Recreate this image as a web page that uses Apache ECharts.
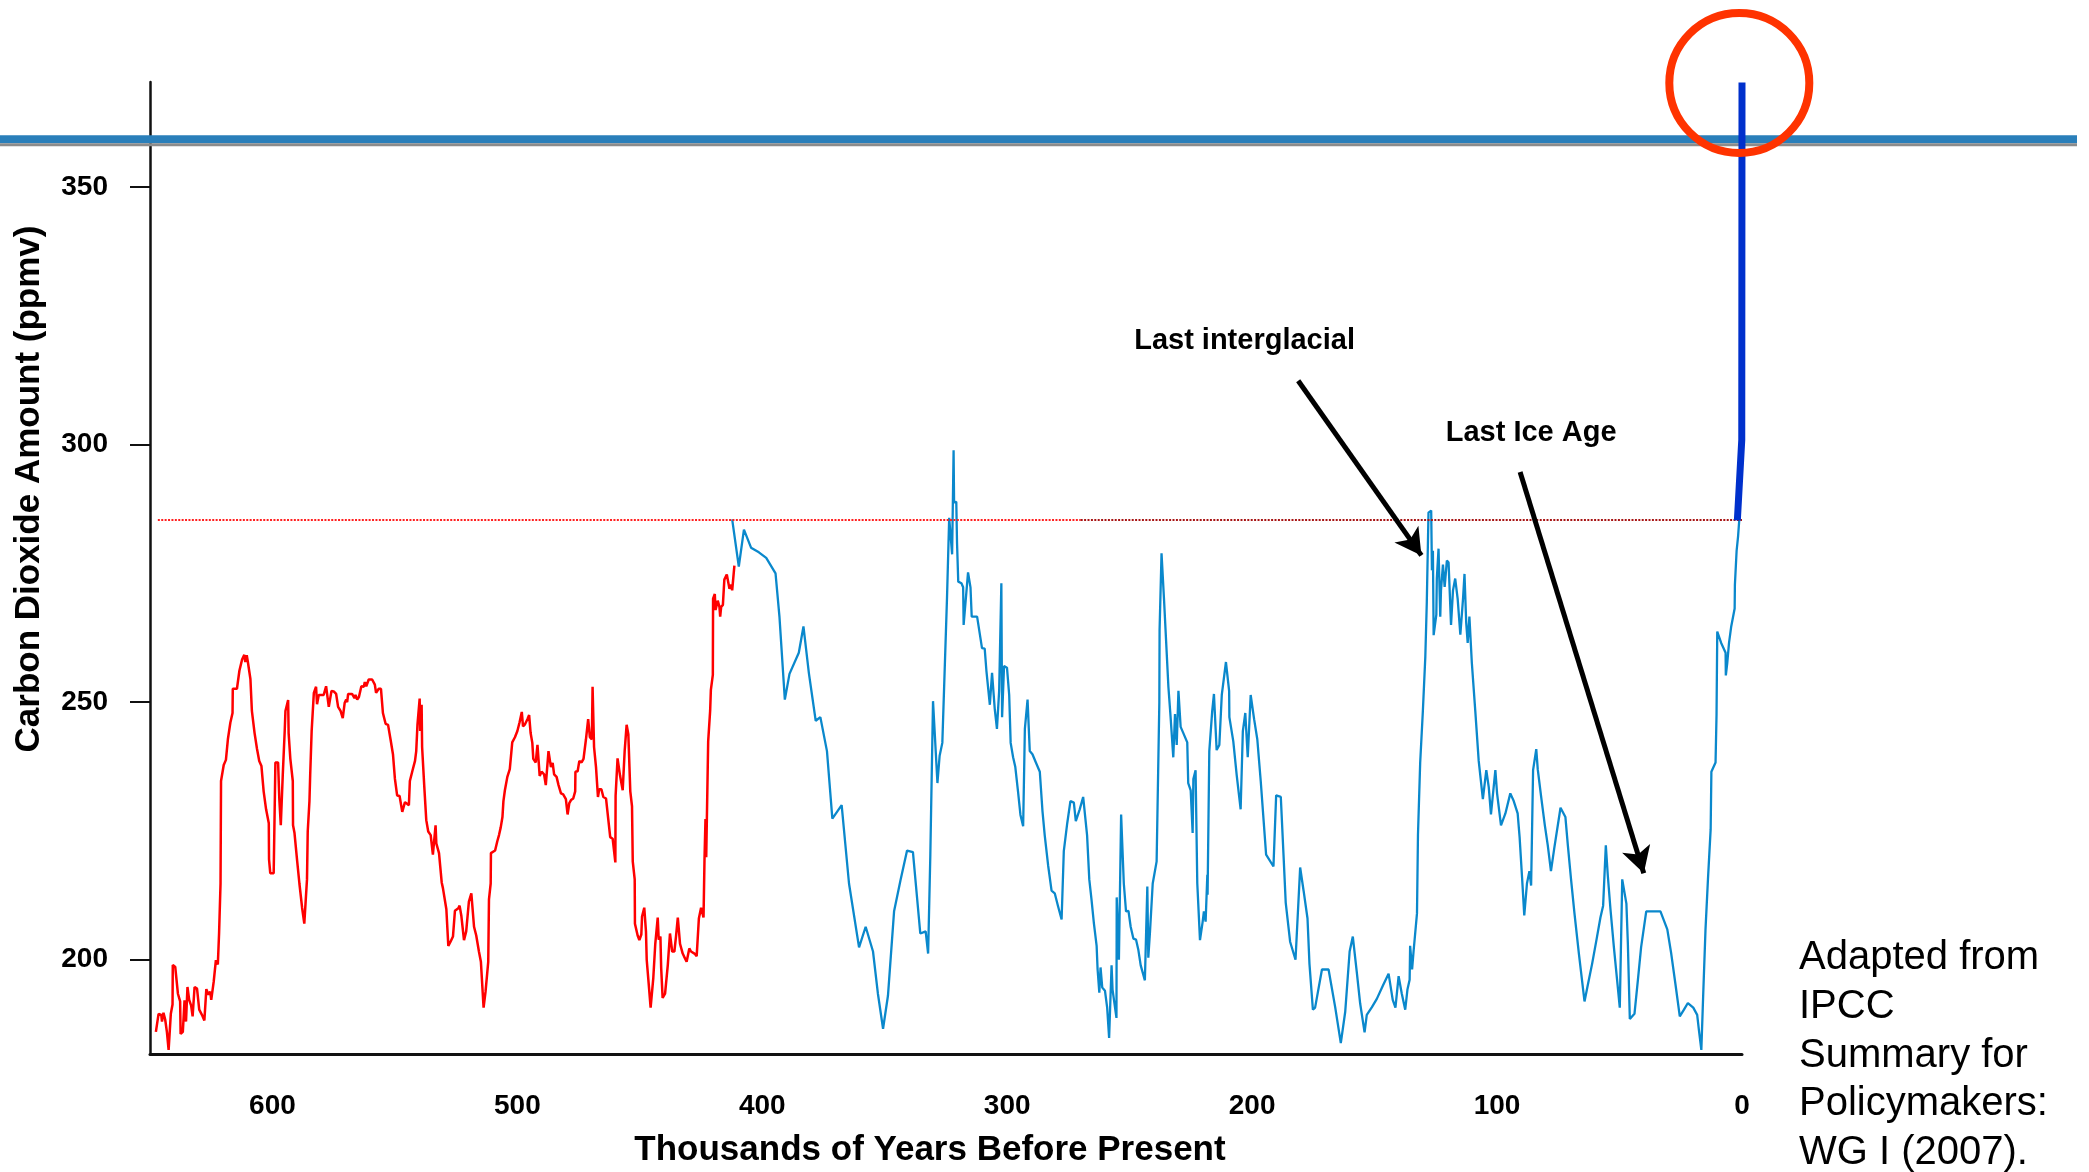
<!DOCTYPE html>
<html lang="en">
<head>
    <meta charset="UTF-8">
    <title>Carbon Dioxide Amount - 650,000 years</title>
    <script src="https://cdn.jsdelivr.net/npm/echarts@6.0.0/dist/echarts.min.js"></script>
    <style>
        html, body { margin: 0; padding: 0; background: #fff; }
        #main { width: 2089px; height: 1172px; }
    </style>
</head>
<body>
    <div id="main"></div>
    <script>
        // thousands of years before present / ppmv
        var redKyr = [
            647.6, 646.5, 645.4, 645.1, 644.5, 643.8, 643.1, 642.4, 641.5, 640.8, 640.7, 639.7, 638.6, 637.7, 637.5,
            636.6, 635.9, 635.3, 634.7, 634.0, 633.2, 632.6, 631.8, 630.8, 629.9, 628.8, 627.8, 627.0, 626.1, 625.4,
            625.0, 624.0, 623.1, 622.3, 621.8, 621.2, 621.0, 619.9, 619.0, 618.2, 617.2, 616.3, 616.2, 614.5, 613.5,
            612.4, 611.5, 611.1, 610.5, 610.1, 609.0, 608.4, 607.3, 606.3, 605.4, 604.5, 603.6, 602.6, 601.5, 601.4,
            600.9, 599.5, 598.8, 597.7, 597.2, 596.6, 595.8, 595.0, 594.7, 593.6, 593.4, 592.7, 591.7, 591.6, 591.0,
            589.9, 589.0, 587.9, 587.0, 585.9, 585.6, 584.9, 584.6, 584.0, 583.1, 582.2, 581.8, 581.1, 579.1, 578.1,
            577.0, 575.9, 575.0, 574.0, 573.2, 572.2, 571.3, 570.5, 569.9, 569.5, 569.1, 567.5, 566.5, 566.1, 565.4,
            564.7, 563.7, 562.7, 562.3, 561.7, 560.7, 559.3, 558.2, 557.7, 556.6, 555.7, 554.9, 553.8, 552.8, 551.8,
            550.8, 550.0, 549.1, 548.1, 547.0, 545.9, 544.3, 543.9, 542.9, 541.8, 541.3, 540.8, 539.9, 539.7, 539.1,
            538.9, 538.0, 537.2, 536.4, 535.4, 534.5, 533.4, 533.1, 532.0, 530.9, 530.4, 529.0, 528.2, 527.3, 526.3,
            525.5, 524.1, 523.6, 522.9, 521.8, 520.9, 519.8, 518.8, 517.7, 516.8, 515.7, 514.9, 514.1, 513.8, 513.0,
            511.9, 511.6, 510.9, 510.8, 510.0, 509.1, 508.2, 507.5, 506.8, 506.1, 505.7, 505.1, 504.1, 503.1, 502.1,
            501.0, 500.0, 499.1, 498.2, 497.7, 496.9, 495.9, 495.2, 494.6, 493.9, 493.5, 492.5, 491.8, 490.9, 490.1,
            489.1, 488.4, 487.3, 486.3, 485.6, 485.0, 484.0, 483.2, 482.2, 481.3, 480.2, 479.5, 478.8, 478.1, 477.2,
            476.4, 476.3, 475.4, 474.7, 473.8, 473.0, 472.0, 471.1, 470.4, 469.6, 469.3, 468.9, 468.7, 467.9, 467.1,
            466.6, 465.7, 464.9, 463.8, 462.9, 462.1, 461.1, 460.0, 459.9, 459.1, 458.1, 457.0, 456.2, 455.4, 454.7,
            454.0, 453.9, 453.2, 452.9, 452.1, 452.0, 450.9, 450.2, 449.4, 449.1, 448.2, 447.5, 447.2, 446.4, 445.6,
            444.5, 443.7, 442.7, 442.3, 441.6, 441.3, 440.7, 439.7, 438.6, 437.7, 436.8, 435.9, 435.2, 434.5, 433.6,
            432.5, 431.5, 430.9, 429.8, 429.1, 428.4, 427.7, 426.8, 425.9, 425.0, 424.0, 423.6, 423.2, 422.9, 422.1,
            421.3, 421.0, 420.2, 420.1, 419.4, 419.1, 418.2, 417.5, 417.2, 416.8, 416.1, 415.5, 414.5, 413.4, 412.7,
            412.3, 411.4
        ];
        var redPpm = [
            186.0, 189.5, 189.3, 188.0, 189.7, 188.4, 186.0, 182.5, 189.5, 191.3, 199.0, 198.6, 193.4, 191.9, 185.6,
            186.0, 192.1, 188.0, 194.7, 192.2, 191.1, 189.0, 194.7, 194.4, 190.3, 189.3, 188.2, 194.3, 193.2, 193.8,
            192.2, 195.7, 199.9, 199.1, 205.1, 214.8, 234.7, 237.8, 238.8, 242.8, 246.0, 247.9, 252.6, 252.6, 256.1,
            258.3, 259.2, 257.8, 259.1, 258.0, 254.5, 248.3, 244.0, 240.9, 238.6, 237.6, 232.7, 229.2, 226.5, 219.5,
            216.8, 216.8, 238.3, 238.3, 231.2, 226.1, 235.8, 244.4, 248.3, 250.4, 244.0, 239.0, 234.7, 226.1, 224.6,
            219.1, 214.8, 210.1, 207.0, 215.6, 224.9, 230.8, 235.8, 244.4, 251.8, 253.0, 249.6, 251.4, 251.4, 253.1,
            249.1, 252.2, 252.1, 251.6, 249.1, 248.3, 246.9, 249.9, 250.5, 250.0, 251.6, 251.6, 250.8, 251.4, 250.5,
            251.0, 253.1, 253.0, 253.9, 253.1, 254.4, 254.4, 253.4, 251.8, 252.6, 252.6, 247.9, 245.8, 245.6, 242.8,
            239.9, 235.1, 231.9, 231.8, 228.7, 230.6, 230.0, 234.7, 236.6, 238.6, 240.5, 245.6, 250.7, 244.4, 249.5,
            241.3, 233.5, 227.1, 224.9, 224.2, 220.4, 226.1, 222.6, 220.7, 215.0, 213.9, 209.8, 202.7, 203.5, 204.5,
            209.5, 210.0, 210.5, 208.6, 203.8, 205.5, 211.3, 212.9, 206.4, 204.7, 201.6, 199.6, 199.6, 190.7, 193.8,
            199.6, 211.7, 214.8, 220.7, 220.4, 221.2, 223.0, 224.2, 225.7, 227.7, 230.8, 232.9, 235.5, 237.0, 242.2,
            243.2, 244.4, 246.1, 248.1, 245.3, 245.7, 246.7, 247.5, 244.0, 242.1, 239.0, 238.3, 241.7, 235.7, 236.5,
            236.0, 233.9, 240.5, 237.4, 238.2, 236.0, 235.5, 233.9, 232.3, 232.1, 231.2, 228.2, 230.4, 231.0, 231.3,
            232.7, 236.5, 236.6, 238.6, 238.3, 239.0, 242.8, 246.7, 243.2, 242.8, 253.0, 253.1, 241.3, 237.4, 231.6,
            233.1, 233.1, 231.6, 231.3, 227.3, 223.8, 223.5, 218.9, 231.8, 239.1, 235.8, 232.9, 240.5, 245.6, 243.8,
            243.8, 232.7, 229.8, 219.1, 215.6, 207.0, 204.7, 203.8, 204.9, 208.4, 210.1, 205.5, 200.0, 195.4, 190.7,
            196.5, 203.1, 208.2, 203.9, 204.5, 198.5, 192.6, 193.4, 198.9, 205.1, 201.6, 201.6, 204.7, 208.2, 203.1,
            201.2, 200.2, 199.6, 202.2, 201.6, 201.6, 201.2, 200.7, 208.0, 210.1, 208.2, 219.5, 227.3, 219.9, 242.4,
            248.3, 252.4, 255.3, 270.1, 271.0, 267.9, 269.7, 268.5, 266.6, 268.5, 268.9, 273.8, 274.8, 272.0, 272.8,
            271.7, 276.5
        ];

        var blueKyr = [
            412.3, 409.6, 407.5, 404.6, 401.4, 398.4, 394.6, 393.0, 390.8, 388.9, 385.1, 383.2, 381.0, 378.2, 376.3,
            373.6, 371.4, 367.6, 364.6, 360.5, 357.8, 354.8, 352.8, 350.7, 348.7, 346.2, 343.6, 340.9, 338.5, 335.5,
            333.3, 332.3, 331.4, 330.3, 328.5, 327.6, 326.5, 324.6, 323.7, 322.5, 321.9, 321.7, 320.8, 320.5, 320.0,
            318.7, 318.0, 317.8, 316.0, 315.0, 314.5, 312.3, 310.3, 309.2, 308.5, 307.1, 306.2, 305.1, 304.2, 303.3,
            302.4, 302.1, 301.3, 300.1, 299.2, 298.6, 297.6, 296.7, 295.6, 294.6, 293.5, 292.8, 291.7, 290.8, 289.7,
            288.3, 286.7, 285.6, 284.7, 283.3, 281.9, 280.6, 279.2, 277.8, 276.9, 275.5, 274.2, 272.8, 272.0, 270.4,
            269.0, 267.4, 266.5, 265.6, 264.6, 263.5, 263.1, 262.4, 261.9, 261.2, 260.1, 259.2, 258.4, 257.4, 257.0,
            255.4, 255.3, 254.4, 253.5, 252.4, 251.5, 250.5, 249.6, 248.5, 247.4, 246.5, 245.5, 243.8, 242.8, 242.4,
            241.7, 240.6, 239.0, 237.9, 237.8, 237.0, 236.0, 234.2, 233.3, 232.2, 231.5, 230.8, 230.1, 229.2, 228.1,
            226.5, 226.1, 225.1, 224.3, 224.0, 223.1, 222.4, 221.3, 220.2, 219.7, 219.0, 218.3, 218.2, 217.5, 216.3,
            215.6, 214.5, 213.4, 212.4, 210.7, 209.4, 209.3, 207.7, 206.3, 204.7, 203.8, 202.8, 201.8, 200.6, 199.2,
            197.9, 196.5, 194.3, 191.3, 190.2, 188.3, 187.2, 186.3, 184.5, 182.3, 180.4, 179.0, 177.4, 176.6, 175.2,
            174.3, 171.5, 168.8, 166.1, 163.8, 162.0, 160.2, 158.9, 157.3, 155.9, 154.1, 153.2, 151.1, 149.1, 146.6,
            144.3, 142.6, 141.5, 140.2, 138.9, 137.5, 136.6, 135.7, 135.5, 134.7, 134.1, 132.7, 132.3, 131.4, 130.3,
            129.3, 128.7, 128.0, 126.9, 126.6, 126.2, 125.9, 124.8, 124.6, 123.9, 123.2, 122.9, 122.1, 121.4, 120.5,
            119.8, 118.8, 118.0, 117.1, 116.1, 115.0, 113.9, 113.3, 112.6, 112.0, 111.3, 110.3, 108.9, 107.5, 105.8,
            104.4, 103.4, 102.5, 100.7, 100.0, 98.4, 96.6, 94.6, 93.2, 91.6, 90.8, 89.8, 88.9, 87.8, 86.8,
            86.1, 85.3, 84.0, 83.4, 82.0, 80.5, 79.3, 78.0, 76.6, 74.1, 72.1, 71.1, 69.8, 68.4, 66.6,
            64.3, 63.0, 61.2, 59.4, 57.8, 56.7, 55.6, 54.8, 53.7, 52.3, 51.0, 49.9, 48.9, 47.2, 46.6,
            45.8, 43.9, 42.5, 41.2, 39.1, 33.3, 30.5, 28.9, 27.1, 25.4, 23.7, 22.1, 19.9, 18.3, 17.6,
            16.6, 15.8, 14.9, 13.9, 12.8, 12.5, 10.8, 10.4, 10.1, 8.5, 6.7, 6.6, 6.0, 5.3, 4.4,
            3.0, 2.9, 2.2, 1.6, 1.1
        ];
        var bluePpm = [
            285.5, 276.3, 283.5, 280.0, 279.1, 278.0, 275.0, 266.6, 250.5, 255.5, 259.6, 264.7, 255.7, 246.4, 247.1,
            240.5, 227.4, 230.0, 214.8, 202.4, 206.4, 201.6, 193.4, 186.6, 193.0, 209.4, 215.4, 221.2, 220.9, 205.1,
            205.5, 201.2, 220.3, 250.2, 234.3, 239.6, 242.1, 270.1, 285.8, 278.7, 298.9, 288.8, 288.9, 281.0, 273.4,
            273.1, 272.3, 265.0, 275.2, 272.3, 266.6, 266.6, 260.5, 260.4, 256.1, 249.5, 255.7, 248.7, 244.8, 252.2,
            273.1, 247.1, 257.0, 256.7, 251.4, 242.1, 239.3, 237.4, 232.7, 228.1, 225.9, 244.8, 250.5, 240.5, 239.9,
            238.3, 236.5, 228.8, 224.2, 218.3, 213.4, 212.9, 210.3, 207.8, 221.1, 226.5, 230.8, 230.5, 226.9, 229.2,
            231.6, 224.2, 215.6, 211.7, 207.0, 202.7, 198.1, 193.6, 198.5, 194.6, 194.0, 190.7, 184.8, 198.9, 194.2,
            188.7, 212.1, 200.0, 228.2, 214.8, 209.4, 209.5, 206.4, 204.1, 203.9, 202.0, 198.9, 196.0, 214.2, 200.4,
            205.5, 214.8, 219.1, 249.9, 263.9, 278.9, 270.1, 253.0, 247.1, 239.3, 247.7, 241.7, 252.2, 245.2, 244.0,
            242.2, 234.3, 232.9, 224.6, 235.1, 236.8, 214.8, 203.8, 207.4, 209.4, 207.4, 216.5, 212.6, 240.5, 248.3,
            251.6, 240.7, 241.7, 251.4, 257.8, 252.2, 247.1, 242.4, 235.8, 229.2, 244.4, 247.9, 239.3, 251.4, 246.7,
            242.8, 234.7, 220.4, 218.1, 231.9, 231.6, 220.4, 211.1, 203.5, 200.0, 217.9, 213.4, 208.0, 199.2, 190.3,
            190.7, 198.1, 198.1, 190.8, 183.8, 189.9, 201.6, 204.5, 197.7, 191.5, 185.9, 189.3, 190.8, 192.4, 195.0,
            197.3, 192.2, 190.7, 196.8, 193.4, 190.3, 194.2, 196.1, 202.7, 198.1, 201.6, 209.0, 224.2, 238.2, 248.3,
            258.8, 269.3, 286.8, 287.2, 275.6, 279.4, 263.0, 267.0, 274.0, 279.8, 266.6, 271.7, 276.7, 272.4, 277.5,
            277.1, 265.0, 271.7, 274.0, 270.1, 263.1, 270.1, 274.9, 265.4, 261.5, 266.6, 257.6, 248.3, 238.6, 231.2,
            236.8, 233.5, 228.2, 236.8, 232.3, 226.1, 228.4, 232.3, 230.8, 228.4, 223.8, 216.0, 208.6, 214.8, 217.2,
            214.4, 236.8, 240.9, 237.0, 231.6, 226.1, 222.2, 217.2, 221.8, 229.5, 227.7, 222.2, 215.6, 209.0, 201.2,
            191.9, 195.0, 199.2, 203.9, 208.2, 210.5, 222.2, 216.4, 209.8, 202.4, 196.1, 190.7, 215.6, 210.9, 203.1,
            188.5, 189.5, 196.1, 202.4, 209.4, 209.4, 205.9, 201.2, 195.0, 189.0, 190.3, 191.6, 190.7, 189.3, 186.4,
            182.5, 193.8, 205.9, 215.6, 225.3, 236.5, 238.3, 247.5, 263.7, 261.5, 259.6, 255.2, 257.7, 261.5, 264.7,
            268.2, 272.8, 279.4, 282.2, 285.5
        ];

        // modern rise (thick dark blue)
        var recentKyr = [1.9, 0.1, 0];
        var recentPpm = [285.3, 300.9, 370.3];

        var xTicks = [0, 100, 200, 300, 400, 500, 600];
        var yTicks = [200, 250, 300, 350];

        var preIndustrial = 285.4;   // dotted reference
        var todayLevel = 359.3;      // wide band across the slide

        function zip(xs, ys) {
            return xs.map(function (x, i) { return [x, ys[i]]; });
        }

        var font = '"Liberation Sans", Arial, sans-serif';

        var option = {
            animation: false,
            backgroundColor: '#fff',
            grid: {
                left: 150, right: 347, top: 82, bottom: 118,
                outerBoundsMode: 'none'
            },
            xAxis: {
                type: 'value',
                min: 0,
                max: 650,
                inverse: true,
                axisLine: { onZero: false, lineStyle: { color: '#111', width: 3 } },
                axisTick: { show: false },
                splitLine: { show: false },
                axisLabel: {
                    customValues: xTicks,
                    margin: 38,
                    color: '#000',
                    fontFamily: font,
                    fontWeight: 'bold',
                    fontSize: 28
                }
            },
            yAxis: {
                type: 'value',
                min: 181.7,
                max: 370.4,
                axisLine: { show: true, onZero: false, lineStyle: { color: '#111', width: 2.5 } },
                axisTick: {
                    show: true,
                    customValues: yTicks,
                    length: 20,
                    lineStyle: { color: '#111', width: 2 }
                },
                splitLine: { show: false },
                axisLabel: {
                    customValues: yTicks,
                    margin: 42,
                    color: '#000',
                    fontFamily: font,
                    fontWeight: 'bold',
                    fontSize: 28
                }
            },
            series: [
                {
                    name: 'older record',
                    type: 'line',
                    data: zip(redKyr, redPpm),
                    symbol: 'none',
                    z: 3,
                    lineStyle: { color: '#ff0000', width: 2.5 },
                    markLine: {
                        silent: true,
                        symbol: 'none',
                        label: { show: false },
                        data: [
                            [
                                { coord: [646.8, preIndustrial], lineStyle: { color: '#ff2020', width: 2, type: [2, 1.4] } },
                                { coord: [270, preIndustrial] }
                            ],
                            [
                                { coord: [270, preIndustrial], lineStyle: { color: '#a81515', width: 2, type: [2, 1.4] } },
                                { coord: [0, preIndustrial] }
                            ]
                        ]
                    }
                },
                {
                    name: 'Vostok record',
                    type: 'line',
                    data: zip(blueKyr, bluePpm),
                    symbol: 'none',
                    z: 3,
                    lineStyle: { color: '#0a88cc', width: 2.3 },
                    markLine: {
                        silent: true,
                        symbol: ['none', 'arrow'],
                        symbolSize: [22, 26],
                        label: { show: false },
                        lineStyle: { color: '#000', width: 5, type: 'solid' },
                        data: [
                            [{ coord: [181.2, 312.4] }, { coord: [130.9, 278.5] }],
                            [{ coord: [90.6, 294.7] }, { coord: [40.1, 216.8] }]
                        ]
                    }
                },
                {
                    name: 'modern',
                    type: 'line',
                    data: zip(recentKyr, recentPpm),
                    symbol: 'none',
                    z: 6,
                    lineStyle: { color: '#0030cc', width: 7 }
                }
            ]
        };

        var chart = echarts.init(document.getElementById('main'));
        chart.setOption(option);

        function px(x, y) {
            return chart.convertToPixel({ gridIndex: 0 }, [x, y]);
        }

        var bandY = px(0, todayLevel)[1];
        var ring = px(1.1, 370.2);
        var tInter = px(203.1, 320.1);
        var tIce = px(86.1, 302.2);

        chart.setOption({
            graphic: [
                {
                    type: 'rect', z: 1, silent: true,
                    shape: { x: 0, y: bandY - 4, width: 2077, height: 8 },
                    style: { fill: '#2a7fba' }
                },
                {
                    type: 'rect', z: 1, silent: true,
                    shape: { x: 0, y: bandY + 4, width: 2077, height: 3 },
                    style: { fill: '#8c8c8c' }
                },
                {
                    type: 'circle', z: 10, silent: true,
                    shape: { cx: ring[0], cy: ring[1], r: 70 },
                    style: { fill: 'none', stroke: '#ff3300', lineWidth: 8 }
                },
                {
                    type: 'text', z: 10, x: tInter[0], y: tInter[1],
                    style: { text: 'Last interglacial', font: 'bold 29px ' + font, fill: '#000', align: 'center', verticalAlign: 'middle' }
                },
                {
                    type: 'text', z: 10, x: tIce[0], y: tIce[1],
                    style: { text: 'Last Ice Age', font: 'bold 29px ' + font, fill: '#000', align: 'center', verticalAlign: 'middle' }
                },
                {
                    type: 'text', z: 10, x: 930, y: 1150,
                    style: { text: 'Thousands of Years Before Present', font: 'bold 35px ' + font, fill: '#000', align: 'center', verticalAlign: 'middle' }
                },
                {
                    type: 'text', z: 10, x: 29, y: 489, rotation: Math.PI / 2,
                    style: { text: 'Carbon Dioxide Amount (ppmv)', font: 'bold 35px ' + font, fill: '#000', align: 'center', verticalAlign: 'middle' }
                },
                {
                    type: 'text', z: 10, x: 1799, y: 934,
                    style: {
                        text: 'Adapted from\nIPCC\nSummary for\nPolicymakers:\nWG I (2007).',
                        font: '40px ' + font, lineHeight: 48.7, fill: '#000', align: 'left', verticalAlign: 'top'
                    }
                }
            ]
        });
    </script>
</body>
</html>
